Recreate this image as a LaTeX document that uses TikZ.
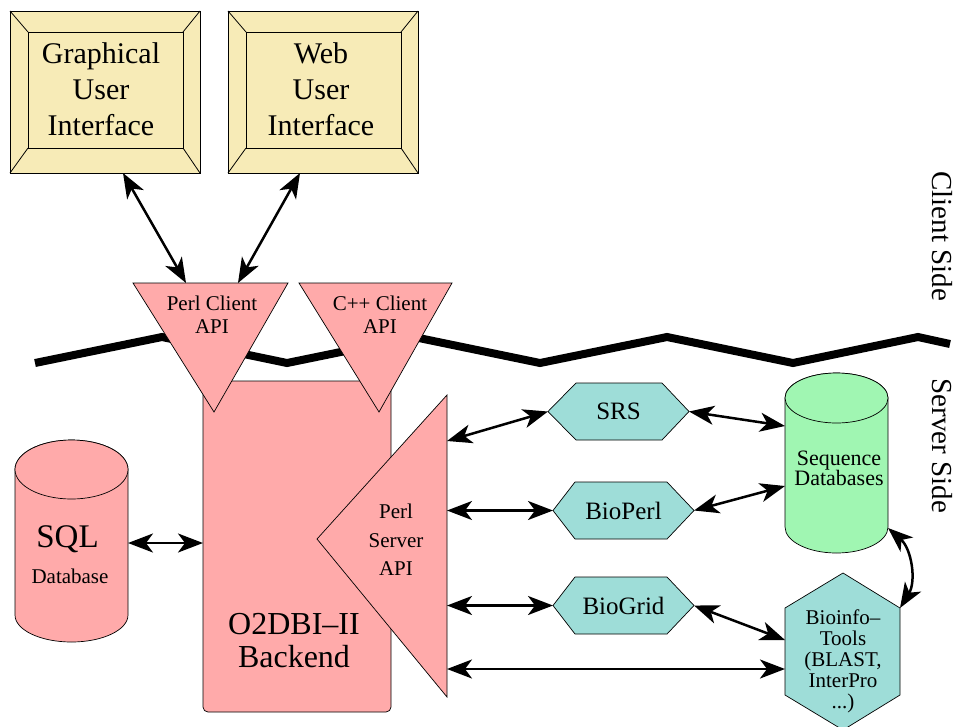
\documentclass[tikz,border=0pt]{standalone}
\usepackage{fontspec}
\setmainfont{Liberation Serif}
\usetikzlibrary{arrows.meta,calc}
\definecolor{boxyellow}{RGB}{247,235,183}
\definecolor{apipink}{RGB}{255,170,170}
\definecolor{hexteal}{RGB}{158,221,216}
\definecolor{dbgreen}{RGB}{160,246,178}
\tikzset{
  every node/.style={inner sep=0pt, outer sep=0pt},
  frame/.style={draw=black, line width=0.8pt, fill=boxyellow, minimum width=190pt, minimum height=162pt},
  bevelline/.style={draw=black, line width=0.8pt},
  pinkshape/.style={draw=black, line width=0.7pt, fill=apipink},
  tealshape/.style={draw=black, line width=0.7pt, fill=hexteal},
  greenshape/.style={draw=black, line width=0.7pt, fill=dbgreen},
  area/.style 2 args={minimum width=#1pt, minimum height=#2pt},
  tip/.tip={Stealth[length=25pt,width=19pt,inset=7pt]},
  link/.style={line width=2.5pt, tip-tip},
  border/.style={line width=8pt, line join=miter},
  uitext/.style={font=\fontsize{30}{36}\selectfont, align=center},
  apitext/.style={font=\fontsize{21}{23}\selectfont, align=center},
  servertext/.style={font=\fontsize{21}{28.5}\selectfont, align=center},
  backtext/.style={font=\fontsize{32}{33}\selectfont, align=center},
  hextext/.style={font=\fontsize{25}{28}\selectfont},
  seqtext/.style={font=\fontsize{22}{20}\selectfont, align=center},
  tooltext/.style={font=\fontsize{21}{21}\selectfont, align=center},
  sidetext/.style={font=\fontsize{29}{32}\selectfont, rotate=-90},
}
\newcommand\drawbevel[1]{%
  \draw[bevelline] ([shift={(18pt,-21pt)}]#1.north west) coordinate (#1-i1)
     rectangle ([shift={(-17pt,25pt)}]#1.south east) coordinate (#1-i2);
  \draw[bevelline] (#1.north west) -- (#1-i1)
     (#1.south east) -- (#1-i2)
     (#1.north east) -- (#1-i1 -| #1-i2)
     (#1.south west) -- (#1-i1 |- #1-i2);
}
\begin{document}
\begin{tikzpicture}[x=1pt,y=-1pt]
\useasboundingbox (0,0) rectangle (957,726);

% client / server border
\draw[border] (35,363) -- (162,337) -- (287,363) -- (414,337) -- (540,363)
  -- (667,337) -- (793,363) -- (918,337) -- (950,344);

% user interfaces
\node[frame] (gui) at (105,92) {};
\drawbevel{gui}
\node[uitext] (guitext) at (101,89) {Graphical\\User\\Interface};
\node[frame] (web) at (323,92) {};
\drawbevel{web}
\node[uitext] (webtext) at (321,89) {Web\\User\\Interface};

% backend
\node[pinkshape, rounded corners=5pt, area={188}{331}] (backend) at (297,546.5) {};
\node[backtext] (backendtext) at (294,640.5) {O2DBI–II\\Backend};

% client APIs
\filldraw[pinkshape] (133,283) -- (288,283) -- (214,412) -- cycle;
\node[area={155}{129}] (perlapi) at (210.5,347.5) {};
\node[apitext] (perlapitext) at (212,315) {Perl Client\\API};
\filldraw[pinkshape] (299,283) -- (452,283) -- (379,412) -- cycle;
\node[area={153}{129}] (cppapi) at (375.5,347.5) {};
\node[apitext] (cppapitext) at (380,315) {C++ Client\\API};

% server API
\filldraw[pinkshape] (447,395) -- (317,539) -- (447,697) -- cycle;
\node[area={130}{302}] (perlserver) at (382,546) {};
\node[servertext] (perlservertext) at (396,540) {Perl\\Server\\API};

% SQL database
\filldraw[pinkshape] (15,469.5) -- (15,615)
  arc[start angle=180, end angle=360, x radius=56.5pt, y radius=27pt]
  -- (128,469.5)
  arc[start angle=0, end angle=180, x radius=56.5pt, y radius=29.5pt] -- cycle;
\draw[pinkshape] (71.5,469.5) ellipse[x radius=56.5pt, y radius=29.5pt];
\node[area={113}{202}] (sql) at (71.5,541) {};
\node[font=\fontsize{33}{33}\selectfont, anchor=base] (sqltitle) at (67.5,547) {SQL};
\node[font=\fontsize{21}{21}\selectfont, anchor=base] (sqlsub) at (70,583) {Database};

% sequence databases
\filldraw[greenshape] (785,398) -- (785,527)
  arc[start angle=180, end angle=360, x radius=51.5pt, y radius=26pt]
  -- (888,398)
  arc[start angle=0, end angle=180, x radius=51.5pt, y radius=25pt] -- cycle;
\draw[greenshape] (836.5,398) ellipse[x radius=51.5pt, y radius=25pt];
\node[area={103}{180}] (seqdb) at (836.5,463) {};
\node[seqtext] (seqdbtext) at (839,468) {Sequence\\Databases};

% middleware hexagons
\filldraw[tealshape] (548,411.5) -- (576,383) -- (662,383) -- (689,411.5) -- (662,440) -- (576,440) -- cycle;
\node[hextext, area={141}{57}] (srs) at (618.5,411.5) {SRS};
\filldraw[tealshape] (553,510.5) -- (575,482) -- (667,482) -- (694,510.5) -- (667,539) -- (575,539) -- cycle;
\node[hextext, area={141}{57}] (bioperl) at (623.5,510.5) {BioPerl};
\filldraw[tealshape] (553,605.5) -- (575,577) -- (667,577) -- (694,605.5) -- (667,634) -- (575,634) -- cycle;
\node[hextext, area={141}{57}] (biogrid) at (623.5,605.5) {BioGrid};

% bioinformatics tools
\filldraw[tealshape] (843,573) -- (900,608) -- (900,695) -- (843,730) -- (785,695) -- (785,608) -- cycle;
\node[area={115}{157}] (bioinfo) at (842.5,651.5) {};
\node[tooltext] (bioinfotext) at (843,661) {Bioinfo–\\Tools\\(BLAST,\\InterPro\\...)};

% side labels
\node[sidetext] (clientside) at (942,236) {Client Side};
\node[sidetext] (serverside) at (942,446) {Server Side};

% connectors
\draw[link] ([xshift=18pt]gui.south) -- ([xshift=-24.5pt]perlapi.north);
\draw[link] ([xshift=-23pt]web.south) -- ([xshift=27.5pt]perlapi.north);
\draw[link] ([yshift=-2pt]sql.east) -- ([yshift=-2pt]sql.east -| backend.west);
\draw[link] ([yshift=-46pt]perlserver.north east) -- (srs.west);
\draw[link] (perlserver.east |- bioperl.west) -- (bioperl.west);
\draw[link] (perlserver.east |- biogrid.west) -- (biogrid.west);
\coordinate (toolsin) at ([yshift=-17.5pt]bioinfo.west);
\draw[link] (perlserver.east |- toolsin) -- (toolsin);
\draw[link] (srs.east) -- ([yshift=37pt]seqdb.west);
\draw[link] (bioperl.east) -- ([yshift=-23pt]seqdb.west);
\draw[link] (biogrid.east) -- ([yshift=11.5pt]bioinfo.west);
\draw[link] ([yshift=-65pt]seqdb.east) to[bend left=40] ([yshift=-35pt]bioinfo.north east);
\end{tikzpicture}
\end{document}
